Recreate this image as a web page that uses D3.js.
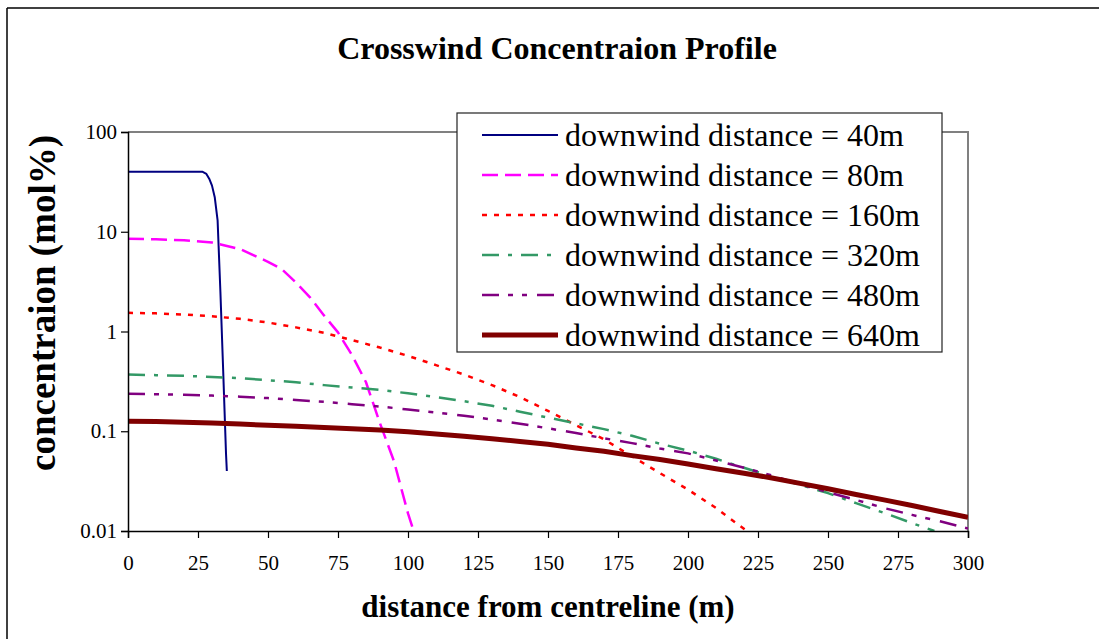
<!DOCTYPE html>
<html><head><meta charset="utf-8">
<script src="https://cdn.jsdelivr.net/npm/d3@7"></script>
<style>body{margin:0;background:#fff}svg{display:block}text{font-family:"Liberation Serif","Times New Roman",Times,serif;fill:#000}</style>
</head><body><svg id="c" width="1099" height="639"></svg>
<script>
const title = "Crosswind Concentraion Profile";
const xLabel = "distance from centreline (m)";
const yLabel = "concentraion (mol%)";
const xTicks = [0,25,50,75,100,125,150,175,200,225,250,275,300];
const yTicks = [0.01,0.1,1,10,100];
const yTickLabels = ["0.01","0.1","1","10","100"];
const seriesNames = ["downwind distance = 40m","downwind distance = 80m","downwind distance = 160m","downwind distance = 320m","downwind distance = 480m","downwind distance = 640m"];
const d40 = [[0,40],[5,40],[10,40],[15,40],[20,40],[25,40],[26.5,40],[28,38],[29,34],[30,29],[31,22],[32,13],[33,2.5],[34,0.4],[35,0.06],[35.3,0.04]];
const d80 = [[0,8.5],[10,8.4],[20,8.2],[30,7.8],[40,6.7],[50,5.0],[55,4.2],[60,3.1],[65,2.2],[70,1.45],[75,0.98],[80,0.58],[85,0.31],[90,0.12],[95,0.05],[100,0.015],[102,0.01]];
const d160 = [[0,1.54],[10,1.52],[20,1.48],[30,1.42],[40,1.34],[50,1.23],[60,1.1],[70,0.97],[80,0.82],[90,0.69],[100,0.57],[110,0.46],[120,0.37],[130,0.29],[140,0.22],[150,0.16],[160,0.115],[170,0.083],[180,0.056],[190,0.038],[200,0.026],[210,0.017],[221,0.01]];
const d320 = [[0,0.37],[10,0.365],[20,0.36],[30,0.35],[40,0.34],[50,0.325],[60,0.31],[70,0.29],[80,0.275],[90,0.26],[100,0.24],[110,0.22],[120,0.2],[130,0.18],[140,0.157],[150,0.137],[160,0.12],[170,0.105],[180,0.09],[190,0.075],[200,0.064],[210,0.053],[220,0.043],[230,0.035],[240,0.029],[250,0.024],[260,0.019],[270,0.0152],[280,0.012],[288,0.01]];
const d480 = [[0,0.237],[10,0.235],[20,0.232],[30,0.228],[40,0.222],[50,0.215],[60,0.206],[70,0.197],[80,0.187],[90,0.177],[100,0.165],[110,0.154],[120,0.143],[130,0.131],[140,0.119],[150,0.107],[160,0.096],[170,0.085],[180,0.076],[190,0.067],[200,0.06],[210,0.051],[220,0.043],[230,0.036],[240,0.0295],[250,0.0245],[260,0.0205],[270,0.017],[280,0.0145],[290,0.0125],[300,0.0106]];
const d640 = [[0,0.126],[10,0.125],[20,0.123],[30,0.121],[40,0.118],[50,0.115],[60,0.112],[70,0.109],[80,0.106],[90,0.103],[100,0.099],[110,0.094],[120,0.089],[130,0.084],[140,0.079],[150,0.074],[160,0.068],[170,0.063],[180,0.057],[190,0.052],[200,0.047],[210,0.042],[220,0.038],[230,0.034],[240,0.03],[250,0.0265],[260,0.0232],[270,0.0205],[280,0.018],[290,0.0157],[300,0.0137]];

const seriesData = [d40,d80,d160,d320,d480,d640];
const colors = ["#000080","#FF00FF","#FF0000","#339966","#800080","#800000"];
const widths = [2,2.5,2.5,2.5,2.5,5];
const dashes = [null,"16,7","5,7","17,9,4,9","17,9,5,9,5,10",null];
const SERIF = '"Liberation Serif","Times New Roman",Times,serif';

const svg = d3.select("#c");
const L=128,R=968,T=132,B=531;
const x = d3.scaleLinear().domain([0,300]).range([L,R]);
const y = d3.scaleLog().domain([0.01,100]).range([B,T]);

svg.append("line").attr("x1",7).attr("y1",8).attr("x2",1099).attr("y2",8).attr("stroke","#000").attr("stroke-width",1.5);
svg.append("line").attr("x1",7).attr("y1",8).attr("x2",7).attr("y2",639).attr("stroke","#000").attr("stroke-width",1.5);

svg.append("text").attr("x",557).attr("y",59).attr("text-anchor","middle").attr("font-weight","bold").attr("font-size",32).style("font-family",SERIF).text(title);

svg.append("path").attr("d",`M${L},${T}H${R}V${B}`).attr("fill","none").attr("stroke","#808080").attr("stroke-width",2);

svg.append("clipPath").attr("id","clip").append("rect").attr("x",L).attr("y",T).attr("width",R-L).attr("height",B-T);

const line = d3.line().x(d=>x(d[0])).y(d=>y(d[1]));
const g = svg.append("g").attr("clip-path","url(#clip)");
seriesData.forEach((s,i)=>{
  const p = g.append("path").datum(s).attr("d",line).attr("fill","none")
    .attr("stroke",colors[i]).attr("stroke-width",widths[i]).attr("stroke-linejoin","round");
  if(dashes[i]) p.attr("stroke-dasharray",dashes[i]);
});

const xAxis = d3.axisBottom(x).tickValues(xTicks).tickSize(7).tickPadding(17).tickFormat(d3.format("d"));
const gx = svg.append("g").attr("transform",`translate(0,${B})`).call(xAxis);
gx.attr("font-family",null).attr("font-size",null);
gx.select(".domain").attr("stroke","#000").attr("stroke-width",1.5);
gx.selectAll(".tick line").attr("stroke","#000").attr("stroke-width",1.2);
gx.selectAll("text").style("font-size","21px").style("font-family",SERIF).attr("fill","#000");

const yAxis = d3.axisLeft(y).tickValues(yTicks).tickSize(7).tickPadding(4).tickFormat((d,i)=>yTickLabels[i]);
const gy = svg.append("g").attr("transform",`translate(${L},0)`).call(yAxis);
gy.attr("font-family",null).attr("font-size",null);
gy.select(".domain").attr("stroke","#000").attr("stroke-width",1.5);
gy.selectAll(".tick line").attr("stroke","#000").attr("stroke-width",1.2);
gy.selectAll("text").style("font-size","21px").style("font-family",SERIF).attr("fill","#000");

svg.append("text").attr("x",548).attr("y",617).attr("text-anchor","middle").attr("font-weight","bold").attr("font-size",31).style("font-family",SERIF).text(xLabel);
svg.append("text").attr("transform","translate(55,303) rotate(-90)").attr("text-anchor","middle").attr("font-weight","bold").attr("font-size",37).style("font-family",SERIF).text(yLabel);

const lg = svg.append("g");
lg.append("rect").attr("x",457).attr("y",113).attr("width",485).attr("height",239).attr("fill","#fff").attr("stroke","#222").attr("stroke-width",1.2);
seriesNames.forEach((n,i)=>{
  const cy = 135 + i*40;
  const l = lg.append("line").attr("x1",482).attr("x2",558).attr("y1",cy).attr("y2",cy)
    .attr("stroke",colors[i]).attr("stroke-width",widths[i]);
  if(dashes[i]) l.attr("stroke-dasharray",dashes[i]);
  lg.append("text").attr("x",565).attr("y",cy+11).style("font-size","32px").style("font-family",SERIF).text(n);
});
</script></body></html>
